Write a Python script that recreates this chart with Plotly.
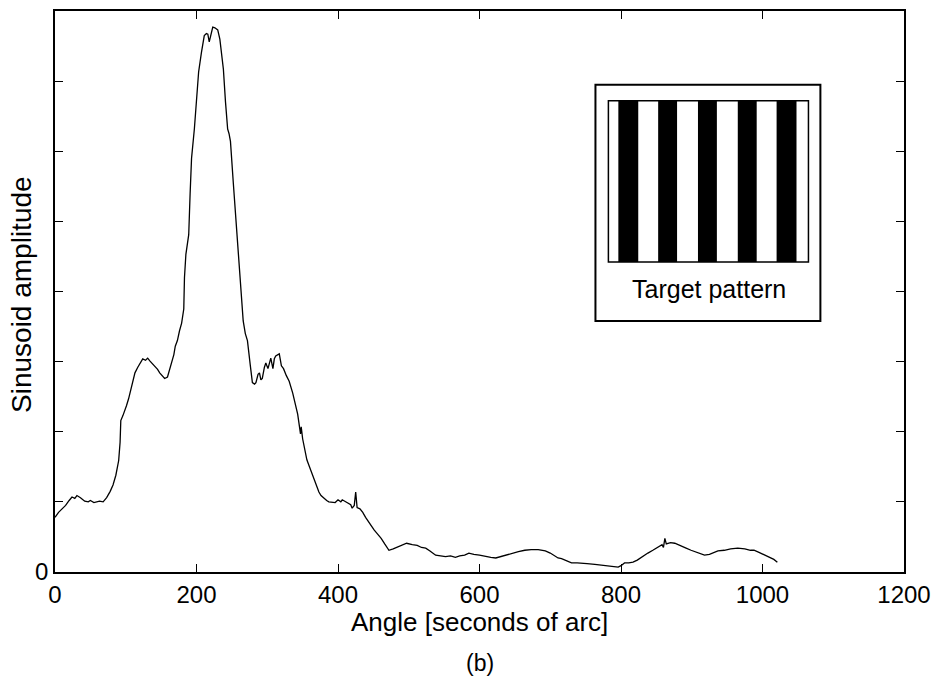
import plotly.graph_objects as go

# ---- data ----
angle = [0, 5, 10, 15, 20, 24, 28, 31, 36, 42, 47, 50, 55, 60, 63, 68, 73, 78, 82, 86,
         90, 92, 93, 96, 99, 101, 104, 106, 107, 110, 113, 117, 120, 124, 128, 131, 134, 138,
         141, 145, 148, 152, 155, 159, 162, 165, 168, 170, 173, 176, 179, 182, 183, 185, 189,
         191, 193, 197, 200, 203, 207, 211, 214, 216, 218, 221, 223, 226, 230, 233, 235, 238,
         241, 244, 246, 248, 252, 256, 260, 263, 266, 269, 272, 276, 279, 282, 284, 287, 289,
         291, 293, 296, 298, 301, 305, 308, 310, 312, 315, 317, 320, 323, 327, 331, 336, 340,
         343, 347, 348, 350, 352, 356, 359, 364, 369, 373, 376, 380, 384, 387, 392, 396, 400,
         404, 406, 410, 414, 418, 420, 423, 425, 427, 431, 435, 439, 445, 451, 456, 461, 466,
         472, 478, 485, 492, 497, 505, 512, 518, 524, 530, 535, 538, 545, 552, 559, 566, 572,
         579, 585, 592, 600, 608, 616, 623, 630, 638, 646, 655, 664, 673, 683, 693, 700, 706,
         711, 716, 722, 730, 738, 744, 752, 763, 772, 780, 788, 796, 800, 805, 811, 817, 823,
         830, 838, 845, 852, 858, 860, 862, 864, 870, 876, 884, 892, 899, 906, 912, 918, 925,
         931, 937, 946, 955, 965, 975, 983, 988, 995, 1003, 1010, 1016, 1021]
amplitude = [0.78, 0.85, 0.90, 0.95, 1.02, 1.07, 1.05, 1.09, 1.06, 1.01, 1.00, 1.02, 0.99, 1.00,
             1.01, 1.00, 1.06, 1.15, 1.24, 1.38, 1.59, 1.85, 2.16, 2.23, 2.30, 2.37, 2.47, 2.55,
             2.63, 2.74, 2.84, 2.92, 2.97, 3.04, 3.02, 3.05, 3.01, 2.97, 2.94, 2.89, 2.84, 2.80,
             2.76, 2.78, 2.88, 2.98, 3.10, 3.22, 3.30, 3.44, 3.55, 3.75, 4.20, 4.53, 4.81, 5.40,
             5.90, 6.32, 6.75, 7.13, 7.41, 7.65, 7.68, 7.67, 7.56, 7.72, 7.77, 7.76, 7.73, 7.60,
             7.41, 7.17, 6.70, 6.32, 6.25, 6.14, 5.55, 5.00, 4.45, 4.00, 3.58, 3.40, 3.30, 2.95,
             2.70, 2.68, 2.70, 2.82, 2.84, 2.74, 2.76, 2.92, 2.98, 2.90, 3.05, 2.90, 3.04, 3.08,
             3.10, 3.11, 2.94, 2.90, 2.80, 2.72, 2.55, 2.40, 2.25, 1.97, 2.07, 1.90, 1.78, 1.60,
             1.52, 1.38, 1.24, 1.14, 1.09, 1.05, 1.02, 1.00, 1.00, 0.99, 1.03, 1.00, 1.03, 1.01,
             0.98, 0.96, 0.91, 0.95, 1.14, 0.92, 0.90, 0.85, 0.78, 0.68, 0.60, 0.54, 0.48, 0.40,
             0.31, 0.33, 0.36, 0.40, 0.41, 0.39, 0.38, 0.35, 0.34, 0.30, 0.27, 0.24, 0.23, 0.22,
             0.23, 0.21, 0.23, 0.24, 0.27, 0.25, 0.24, 0.23, 0.21, 0.20, 0.22, 0.25, 0.27, 0.29,
             0.31, 0.32, 0.32, 0.30, 0.27, 0.23, 0.20, 0.19, 0.16, 0.13, 0.13, 0.13, 0.12, 0.11,
             0.10, 0.09, 0.08, 0.07, 0.09, 0.13, 0.13, 0.14, 0.17, 0.22, 0.27, 0.31, 0.35, 0.39,
             0.35, 0.48, 0.40, 0.42, 0.41, 0.38, 0.34, 0.31, 0.28, 0.26, 0.24, 0.25, 0.28, 0.30,
             0.31, 0.33, 0.34, 0.33, 0.31, 0.31, 0.28, 0.24, 0.21, 0.18, 0.14]

x_ticks = [0, 200, 400, 600, 800, 1000, 1200]
x_ticklabels = ["0", "200", "400", "600", "800", "1000", "1200"]
y_ticks = [0, 1, 2, 3, 4, 5, 6, 7, 8]
y_ticklabels = ["0", "", "", "", "", "", "", "", ""]

FONT = "Liberation Sans, Arial, Helvetica, sans-serif"

fig = go.Figure()
fig.add_trace(go.Scatter(x=angle, y=amplitude, mode="lines",
                         line=dict(color="black", width=1.3), showlegend=False,
                         hoverinfo="skip"))

# plot area in pixels: left 55, right 908, top 9, bottom 572
L, R, T, B = 55, 908, 9, 572
def px(xp):
    return (xp - L) / (R - L)
def py(yp):
    return (B - yp) / (B - T)

shapes = []
# outer inset box
shapes.append(dict(type="rect", xref="paper", yref="paper",
                   x0=px(598), x1=px(824), y0=py(320), y1=py(83),
                   line=dict(color="black", width=2), fillcolor="white", layer="above"))
# black stripes
for a, b in [(621, 641), (661, 680), (701, 720), (741, 760), (780, 800)]:
    shapes.append(dict(type="rect", xref="paper", yref="paper",
                       x0=px(a), x1=px(b), y0=py(261), y1=py(99),
                       line=dict(width=0), fillcolor="black", layer="above"))
# inner pattern frame
shapes.append(dict(type="rect", xref="paper", yref="paper",
                   x0=px(611), x1=px(812), y0=py(261), y1=py(99),
                   line=dict(color="black", width=1.5), fillcolor="rgba(0,0,0,0)", layer="above"))

annotations = [
    dict(text="Target pattern", xref="paper", yref="paper", x=px(712), y=py(288),
         showarrow=False, font=dict(family=FONT, size=25, color="black"),
         xanchor="center", yanchor="middle"),
    dict(text="Angle [seconds of arc]", xref="paper", yref="paper", x=0.5, y=0,
         yshift=-50, showarrow=False, font=dict(family=FONT, size=26, color="black"),
         xanchor="center", yanchor="middle"),
    dict(text="(b)", xref="paper", yref="paper", x=0.5, y=0,
         yshift=-91, showarrow=False, font=dict(family=FONT, size=23, color="black"),
         xanchor="center", yanchor="middle"),
    dict(text="Sinusoid amplitude", xref="paper", yref="paper", x=0, y=py(294),
         xshift=-33, textangle=-90, showarrow=False,
         font=dict(family=FONT, size=28, color="black"),
         xanchor="center", yanchor="middle"),
]

fig.update_layout(
    width=940, height=679,
    margin=dict(l=L, r=940 - R, t=T, b=679 - B),
    paper_bgcolor="white", plot_bgcolor="white",
    font=dict(family=FONT, color="black"),
    shapes=shapes, annotations=annotations,
    xaxis=dict(range=[0, 1200], tickvals=x_ticks, ticktext=x_ticklabels,
               ticks="inside", ticklen=8, tickwidth=1.3, tickcolor="black",
               showline=True, linecolor="black", linewidth=1.8, mirror="ticks",
               showgrid=False, zeroline=False,
               tickfont=dict(family=FONT, size=24, color="black")),
    yaxis=dict(range=[0, 8], tickvals=y_ticks, ticktext=y_ticklabels,
               ticks="inside", ticklen=8, tickwidth=1.3, tickcolor="black",
               showline=True, linecolor="black", linewidth=1.8, mirror="ticks",
               showgrid=False, zeroline=False,
               tickfont=dict(family=FONT, size=24, color="black")),
)

fig.write_html("out.html")
